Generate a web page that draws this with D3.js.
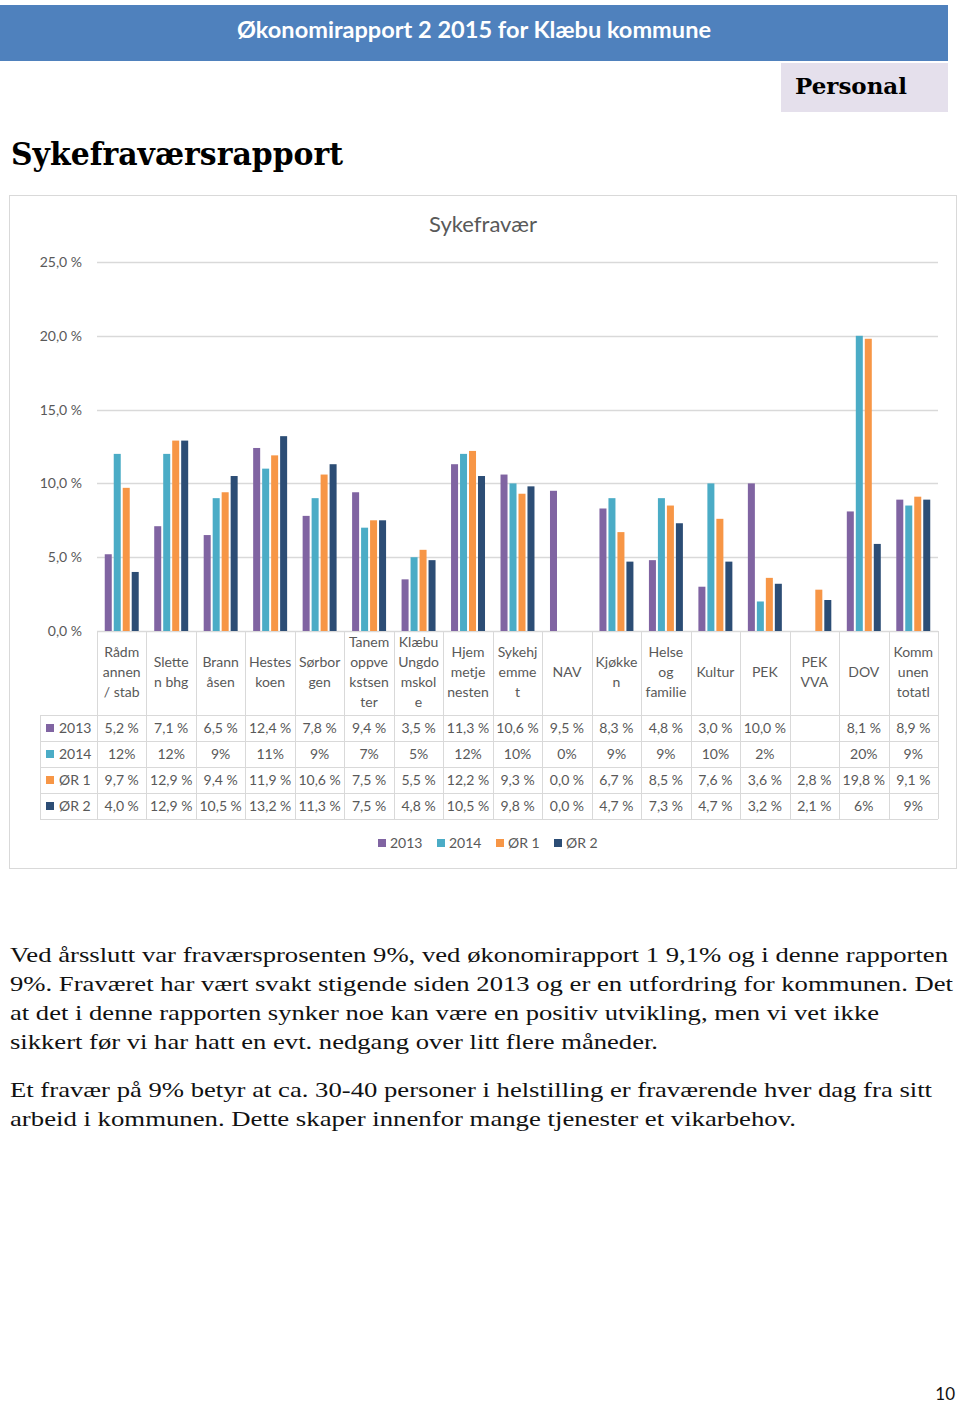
<!DOCTYPE html>
<html><head><meta charset="utf-8">
<script src="https://cdn.jsdelivr.net/npm/d3@7"></script>
<style>body{margin:0;background:#fff}svg{display:block}</style>
</head><body>
<script>
// ---- data ----
const categories = ["Rådmannen / stab","Sletten bhg","Brannåsen","Hesteskoen","Sørborgen","Tanem oppvekstsenter","Klæbu Ungdomsskole","Hjemmetjenesten","Sykehjemmet","NAV","Kjøkken","Helse og familie","Kultur","PEK","PEK VVA","DOV","Kommunen totatl"];
const categoryLines = [["Rådm","annen","/ stab"],["Slette","n bhg"],["Brann","åsen"],["Hestes","koen"],["Sørbor","gen"],["Tanem","oppve","kstsen","ter"],["Klæbu","Ungdo","mskol","e"],["Hjem","metje","nesten"],["Sykehj","emme","t"],["NAV"],["Kjøkke","n"],["Helse","og","familie"],["Kultur"],["PEK"],["PEK","VVA"],["DOV"],["Komm","unen","totatl"]];
const seriesNames = ["2013","2014","ØR 1","ØR 2"];
const seriesColors = ["#8064a2","#4bacc6","#f79646","#2c4d75"];
const v2013 = [5.2,7.1,6.5,12.4,7.8,9.4,3.5,11.3,10.6,9.5,8.3,4.8,3.0,10.0,null,8.1,8.9];
const v2014 = [12,12,9,11,9,7,5,12,10,0,9,9,10,2,null,20,8.5];
const vOR1  = [9.7,12.9,9.4,11.9,10.6,7.5,5.5,12.2,9.3,0.0,6.7,8.5,7.6,3.6,2.8,19.8,9.1];
const vOR2  = [4.0,12.9,10.5,13.2,11.3,7.5,4.8,10.5,9.8,0.0,4.7,7.3,4.7,3.2,2.1,5.9,8.9];
const l2013 = ["5,2 %","7,1 %","6,5 %","12,4 %","7,8 %","9,4 %","3,5 %","11,3 %","10,6 %","9,5 %","8,3 %","4,8 %","3,0 %","10,0 %","","8,1 %","8,9 %"];
const l2014 = ["12%","12%","9%","11%","9%","7%","5%","12%","10%","0%","9%","9%","10%","2%","","20%","9%"];
const lOR1  = ["9,7 %","12,9 %","9,4 %","11,9 %","10,6 %","7,5 %","5,5 %","12,2 %","9,3 %","0,0 %","6,7 %","8,5 %","7,6 %","3,6 %","2,8 %","19,8 %","9,1 %"];
const lOR2  = ["4,0 %","12,9 %","10,5 %","13,2 %","11,3 %","7,5 %","4,8 %","10,5 %","9,8 %","0,0 %","4,7 %","7,3 %","4,7 %","3,2 %","2,1 %","6%","9%"];
const yTicks = [0,5,10,15,20,25];
const bodyLines = [
 "Ved årsslutt var fraværsprosenten 9%, ved økonomirapport 1 9,1% og i denne rapporten",
 "9%. Fraværet har vært svakt stigende siden 2013 og er en utfordring for kommunen. Det",
 "at det i denne rapporten synker noe kan være en positiv utvikling, men vi vet ikke",
 "sikkert før vi har hatt en evt. nedgang over litt flere måneder.",
 "Et fravær på 9% betyr at ca. 30-40 personer i helstilling er fraværende hver dag fra sitt",
 "arbeid i kommunen. Dette skaper innenfor mange tjenester et vikarbehov."
];
const bodyWidths = [938,943,869,648,922,786];
const bodyY = [962,991,1020,1049,1097,1126];

const values = [v2013,v2014,vOR1,vOR2];
const labels = [l2013,l2014,lOR1,lOR2];

// ---- drawing ----
const W=960,H=1405;
const svg=d3.select("body").append("svg").attr("width",W).attr("height",H);
const sans="Lato, 'Open Sans', sans-serif";
const grey="#595959";

// header
svg.append("rect").attr("x",0).attr("y",5).attr("width",948).attr("height",56).attr("fill","#4f81bd");
svg.append("text").attr("x",474).attr("y",38).attr("text-anchor","middle").attr("fill","#fff")
  .attr("font-family",sans).attr("font-weight","bold").attr("font-size",22)
  .attr("textLength",474).attr("lengthAdjust","spacingAndGlyphs").text("Økonomirapport 2 2015 for Klæbu kommune");
svg.append("rect").attr("x",781).attr("y",63).attr("width",167).attr("height",49).attr("fill","#e5e0ec");
svg.append("text").attr("x",795).attr("y",94).attr("font-family","'DejaVu Serif', serif").attr("font-weight","bold")
  .attr("font-size",23).attr("textLength",112).attr("lengthAdjust","spacingAndGlyphs").text("Personal");
svg.append("text").attr("x",11).attr("y",165).attr("font-family","'DejaVu Serif', serif").attr("font-weight","bold")
  .attr("font-size",32).attr("textLength",332).attr("lengthAdjust","spacingAndGlyphs").text("Sykefraværsrapport");

// chart frame
svg.append("rect").attr("x",9.5).attr("y",195.5).attr("width",947).attr("height",673).attr("fill","none").attr("stroke","#d9d9d9");
svg.append("text").attr("x",483).attr("y",232).attr("text-anchor","middle").attr("fill",grey)
  .attr("font-family",sans).attr("font-size",22).text("Sykefravær");

const x0=d3.scaleBand().domain(categories).range([97,938]).padding(0);
const x1=d3.scaleBand().domain(seriesNames).range([7.75,x0.bandwidth()-7.75]).paddingInner(0.22);
const y=d3.scaleLinear().domain([0,25]).range([631,262]);

// grid
svg.append("g").selectAll("line").data(yTicks).join("line")
  .attr("x1",97).attr("x2",938).attr("y1",d=>Math.round(y(d))+0.5).attr("y2",d=>Math.round(y(d))+0.5)
  .attr("stroke","#d9d9d9").attr("stroke-width",1.3);
svg.append("g").selectAll("text").data(yTicks).join("text")
  .attr("x",82).attr("y",d=>y(d)+5).attr("text-anchor","end").attr("fill",grey)
  .attr("font-family",sans).attr("font-size",14).text(d=>d3.format(".1f")(d).replace(".",",")+" %");

// bars
const bars=[];
categories.forEach((c,i)=>seriesNames.forEach((s,j)=>{ if(values[j][i]!=null) bars.push({c,s,j,v:values[j][i]}); }));
svg.append("g").selectAll("rect").data(bars).join("rect")
  .attr("x",d=>x0(d.c)+x1(d.s)).attr("width",x1.bandwidth())
  .attr("y",d=>y(d.v)).attr("height",d=>y(0)-y(d.v)).attr("fill",d=>seriesColors[d.j]);

// data table
const tbl=svg.append("g").attr("stroke","#d9d9d9").attr("stroke-width",1);
const rowTop=715,rowH=26;
x0.domain().forEach(c=>{
  tbl.append("line").attr("x1",Math.round(x0(c))+0.5).attr("x2",Math.round(x0(c))+0.5).attr("y1",631).attr("y2",rowTop+4*rowH);
});
tbl.append("line").attr("x1",938.5).attr("x2",938.5).attr("y1",631).attr("y2",rowTop+4*rowH);
tbl.append("line").attr("x1",40.5).attr("x2",40.5).attr("y1",rowTop).attr("y2",rowTop+4*rowH);
for(let r=0;r<=4;r++){
  tbl.append("line").attr("x1",40).attr("x2",938).attr("y1",rowTop+r*rowH+0.5).attr("y2",rowTop+r*rowH+0.5);
}
const catG=svg.append("g").attr("font-family",sans).attr("font-size",14).attr("fill",grey).attr("text-anchor","middle");
categories.forEach((c,i)=>{
  const lines=categoryLines[i];
  const cx=x0(c)+x0.bandwidth()/2;
  lines.forEach((ln,k)=>{
    catG.append("text").attr("x",cx).attr("y",672+(k-(lines.length-1)/2)*20+5).text(ln);
  });
});
seriesNames.forEach((s,j)=>{
  const cy=rowTop+j*rowH+rowH/2;
  svg.append("rect").attr("x",46).attr("y",cy-4).attr("width",8).attr("height",8).attr("fill",seriesColors[j]);
  svg.append("text").attr("x",59).attr("y",cy+5).attr("font-family",sans).attr("font-size",14).attr("fill",grey).text(s);
  svg.append("g").selectAll("text").data(categories).join("text")
    .attr("x",c=>x0(c)+x0.bandwidth()/2).attr("y",cy+5).attr("text-anchor","middle")
    .attr("font-family",sans).attr("font-size",14).attr("fill",grey).text((c,i)=>labels[j][i]);
});

// legend
const legX=[378,437,496,554];
seriesNames.forEach((s,j)=>{
  svg.append("rect").attr("x",legX[j]).attr("y",839).attr("width",8).attr("height",8).attr("fill",seriesColors[j]);
  svg.append("text").attr("x",legX[j]+12).attr("y",848).attr("font-family",sans).attr("font-size",14).attr("fill",grey).text(s);
});

// body text
bodyLines.forEach((t,i)=>{
  svg.append("text").attr("x",10).attr("y",bodyY[i]).attr("font-family","'Liberation Serif', serif")
    .attr("font-size",22).attr("fill","#111").attr("textLength",bodyWidths[i]).attr("lengthAdjust","spacingAndGlyphs").text(t);
});
svg.append("text").attr("x",955).attr("y",1400).attr("text-anchor","end").attr("font-family",sans).attr("font-size",17).attr("fill","#111").text("10");
</script>
</body></html>
